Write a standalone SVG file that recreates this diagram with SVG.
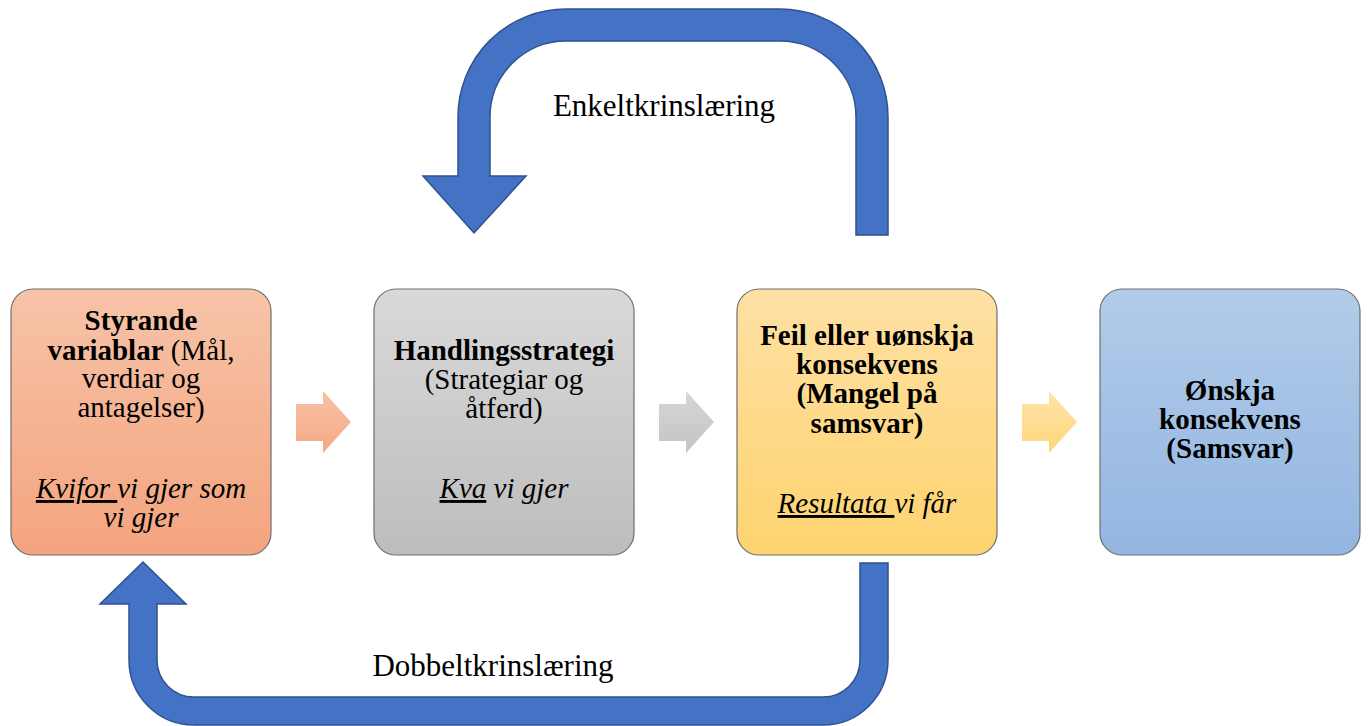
<svg xmlns="http://www.w3.org/2000/svg" width="1368" height="726" viewBox="0 0 1368 726">
<defs>
<linearGradient id="gOrange" x1="0" y1="0" x2="0" y2="1"><stop offset="0" stop-color="#f7c3a8"/><stop offset="1" stop-color="#f4a47e"/></linearGradient>
<linearGradient id="gGray" x1="0" y1="0" x2="0" y2="1"><stop offset="0" stop-color="#d9d9d9"/><stop offset="1" stop-color="#bdbdbd"/></linearGradient>
<linearGradient id="gYellow" x1="0" y1="0" x2="0" y2="1"><stop offset="0" stop-color="#fee0a4"/><stop offset="1" stop-color="#fed470"/></linearGradient>
<linearGradient id="gBlue" x1="0" y1="0" x2="0" y2="1"><stop offset="0" stop-color="#b2cbe9"/><stop offset="1" stop-color="#93b6e1"/></linearGradient>
<linearGradient id="aOrange" x1="0" y1="0" x2="0" y2="1"><stop offset="0" stop-color="#f6c2a6"/><stop offset="1" stop-color="#f5a985"/></linearGradient>
<linearGradient id="aGray" x1="0" y1="0" x2="0" y2="1"><stop offset="0" stop-color="#d6d6d6"/><stop offset="1" stop-color="#c4c4c4"/></linearGradient>
<linearGradient id="aYellow" x1="0" y1="0" x2="0" y2="1"><stop offset="0" stop-color="#fee3ab"/><stop offset="1" stop-color="#fed67a"/></linearGradient>
</defs>
<style>
.box{stroke:#6e6e6e;stroke-width:1.2}
.t{font-family:"Liberation Serif","Times New Roman",serif;font-size:29px;fill:#000;text-anchor:middle}
.b{font-weight:bold}
.i{font-style:italic}
.u{text-decoration:underline}
.lbl{font-family:"Liberation Serif","Times New Roman",serif;font-size:31px;fill:#000;text-anchor:middle}
.loop{fill:#4472c4;stroke:#2f528f;stroke-width:1.5;stroke-linejoin:miter}
</style>
<rect width="1368" height="726" fill="#ffffff"/>

<g id="node-styrande">
<rect class="box" x="11" y="289" width="260" height="266" rx="22" fill="url(#gOrange)"/>
<text class="t"><tspan x="141" y="330" class="b">Styrande</tspan><tspan x="141" y="360"><tspan class="b">variablar</tspan> (Mål,</tspan><tspan x="141" y="388">verdiar og</tspan><tspan x="141" y="417">antagelser)</tspan></text>
<text class="t i"><tspan x="141" y="498"><tspan class="u">Kvifor </tspan>vi gjer som</tspan><tspan x="141" y="527">vi gjer</tspan></text>
</g>

<g id="node-handling">
<rect class="box" x="374" y="289" width="260" height="266" rx="22" fill="url(#gGray)"/>
<text class="t"><tspan x="504" y="360" class="b">Handlingsstrategi</tspan><tspan x="504" y="389">(Strategiar og</tspan><tspan x="504" y="418">åtferd)</tspan></text>
<text class="t i"><tspan x="504" y="498"><tspan class="u">Kva</tspan> vi gjer</tspan></text>
</g>

<g id="node-feil">
<rect class="box" x="737" y="289" width="260" height="266" rx="22" fill="url(#gYellow)"/>
<text class="t b"><tspan x="867" y="345">Feil eller uønskja</tspan><tspan x="867" y="374">konsekvens</tspan><tspan x="867" y="403">(Mangel på</tspan><tspan x="867" y="433">samsvar)</tspan></text>
<text class="t i"><tspan x="867" y="513"><tspan class="u">Resultata </tspan>vi får</tspan></text>
</g>

<g id="node-onskja">
<rect class="box" x="1100" y="289" width="260" height="266" rx="22" fill="url(#gBlue)"/>
<text class="t b"><tspan x="1230" y="400">Ønskja</tspan><tspan x="1230" y="429">konsekvens</tspan><tspan x="1230" y="458">(Samsvar)</tspan></text>
</g>

<g id="connectors">
<path d="M296 404 H323 V391 L351 422 L323 453 V441 H296 Z" fill="url(#aOrange)"/>
<path d="M659 404 H686 V391 L714 422 L686 453 V441 H659 Z" fill="url(#aGray)"/>
<path d="M1022 404 H1049 V391 L1077 422 L1049 453 V441 H1022 Z" fill="url(#aYellow)"/>
<path class="loop" d="M856 235 V117 A76 76 0 0 0 780 41 H566 A76 76 0 0 0 490 117 V176 H526 L474 233 L423 176 H458 V117 A108 108 0 0 1 566 9 H780 A108 108 0 0 1 888 117 V235 Z"/>
<path class="loop" d="M860 563 V660 A37 37 0 0 1 823 697 H194 A37 37 0 0 1 157 660 V604 H186 L143 562 L100 604 H129 V660 A65 65 0 0 0 194 725 H823 A65 65 0 0 0 888 660 V563 Z"/>
<text class="lbl" x="664" y="116">Enkeltkrinslæring</text>
<text class="lbl" x="493" y="676">Dobbeltkrinslæring</text>
</g>
</svg>
